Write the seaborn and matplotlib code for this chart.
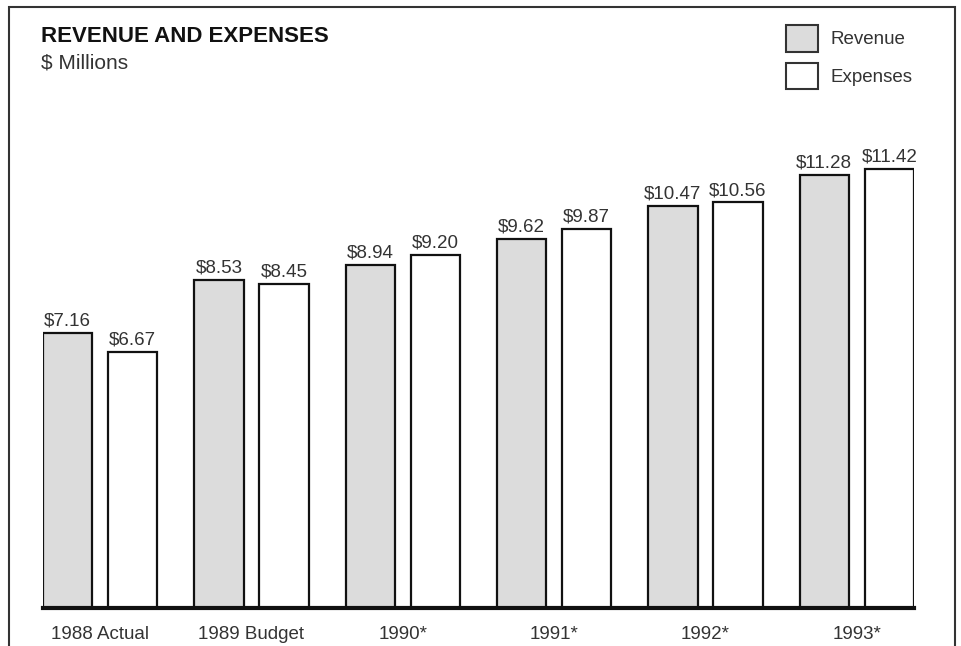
import matplotlib
matplotlib.use("Agg")
import matplotlib.pyplot as plt
import seaborn as sns
import pandas as pd
from matplotlib.patches import Rectangle, Patch

years = ["1988 Actual", "1989 Budget", "1990*", "1991*", "1992*", "1993*"]
revenue = [7.16, 8.53, 8.94, 9.62, 10.47, 11.28]
expenses = [6.67, 8.45, 9.20, 9.87, 10.56, 11.42]
series = ["Revenue", "Expenses"]
colors = {"Revenue": "#dcdcdc", "Expenses": "#ffffff"}

df = pd.DataFrame({
    "year": years * 2,
    "value": revenue + expenses,
    "series": ["Revenue"] * len(years) + ["Expenses"] * len(years),
})

sns.set_theme(style="white")
plt.rcParams["font.family"] = ["Liberation Sans", "DejaVu Sans"]

W, H = 962, 646
fig = plt.figure(figsize=(W / 100, H / 100), dpi=100)
ax = fig.add_axes([43 / W, 1 - 608 / H, (914 - 43) / W, (608 - 130) / H])

sns.barplot(data=df, x="year", y="value", hue="series", hue_order=series,
            palette=colors, edgecolor="#111111", linewidth=1.6,
            width=0.86, gap=0.244, legend=False, ax=ax)

for cont in ax.containers:
    ax.bar_label(cont, labels=[f"${v:.2f}" for v in cont.datavalues],
                 padding=2.5, fontsize=13.5, color="#333333")

ax.set_xlim(-0.3775, 5.3775)
ax.set_ylim(0, 478 / 38.4)
ax.set_xlabel("")
ax.set_ylabel("")
ax.set_yticks([])
ax.tick_params(axis="x", length=0, pad=13, labelsize=13.5, labelcolor="#333333")
for s in ["left", "right", "top"]:
    ax.spines[s].set_visible(False)
ax.spines["bottom"].set_linewidth(3)
ax.spines["bottom"].set_color("#111111")

# outer frame
fig.patches.append(Rectangle((8.5 / W, -0.05), (955 - 8.5) / W, 1.05 - 7.5 / H,
                             transform=fig.transFigure, fill=False,
                             edgecolor="#333333", linewidth=1.5))

fig.text(41 / W, 1 - 26 / H, "REVENUE AND EXPENSES", fontsize=16, fontweight="bold",
         color="#111111", va="top", ha="left")
fig.text(41 / W, 1 - 54 / H, "$ Millions", fontsize=15, color="#333333",
         va="top", ha="left")

handles = [Patch(facecolor=colors[s], edgecolor="#333333", linewidth=1.5, label=s)
           for s in series]
leg = fig.legend(handles=handles, loc="upper left",
                 bbox_to_anchor=(786 / W, 1 - 25 / H), frameon=False,
                 fontsize=13.5, handlelength=1.7, handleheight=1.8,
                 labelspacing=0.6, handletextpad=0.65, borderpad=0, borderaxespad=0)
for t in leg.get_texts():
    t.set_color("#333333")

fig.savefig("out.png", dpi=100)
